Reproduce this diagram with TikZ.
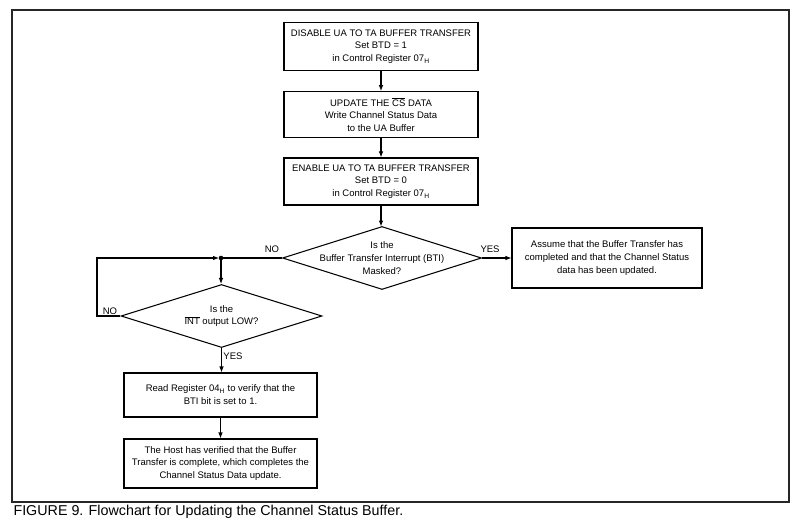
\documentclass[tikz,border=0pt]{standalone}
\usepackage{fontspec}
\setmainfont{Liberation Sans}
\usetikzlibrary{shapes.geometric,arrows.meta}
\begin{document}
\begin{tikzpicture}[x=1pt,y=-1pt,
  font=\fontsize{9.5}{12.8}\selectfont,
  line width=1.05pt,
  box/.style={draw, rectangle, align=center, inner sep=0pt},
  dia/.style={draw, diamond, inner sep=0pt, minimum width=200, minimum height=63},
  txt/.style={align=center, inner sep=0pt},
  lbl/.style={inner sep=0pt},
  arr/.style={-{Latex[length=6pt,width=4.6pt]}}
]
\useasboundingbox (0,0) rectangle (800,524);
\draw[line width=1.5pt, draw=black!85] (12,10) rectangle (789,502);
\node[anchor=base west, inner sep=0pt, font=\fontsize{14.3}{16}\selectfont] (cap) at (13,515) {FIGURE 9. Flowchart for Updating the Channel Status Buffer.};

\node[box, minimum width=194, minimum height=48] (b1) at (381,46.5) {DISABLE UA TO TA BUFFER TRANSFER\\Set BTD = 1\\in Control Register 07\textsubscript{H}};
\node[box, minimum width=194, minimum height=46] (b2) at (381,114.7) {UPDATE THE $\overline{\hbox{CS}}$ DATA\\Write Channel Status Data\\to the UA Buffer};
\node[box, minimum width=194, minimum height=47] (b3) at (381,181.5) {ENABLE UA TO TA BUFFER TRANSFER\\Set BTD = 0\\in Control Register 07\textsubscript{H}};

\node[dia, minimum width=199] (d1) at (382,258) {};
\node[txt] (d1t) at (382,258) {Is the\\Buffer Transfer Interrupt (BTI)\\Masked?};
\node[box, minimum width=190, minimum height=60] (rb) at (607,258) {Assume that the Buffer Transfer has\\completed and that the Channel Status\\data has been updated.};

\coordinate (j) at (221,258);
\fill (j) circle (2.3);
\node[dia, minimum width=201] (d2) at (221.5,316) {};
\node[txt] (d2t) at (221.5,316) {Is the\\$\overline{\hbox{INT}}$ output LOW?};
\coordinate (lc) at (97,316);
\coordinate (lt) at (97,258);

\node[box, minimum width=193, minimum height=44] (b4) at (220.5,395) {Read Register 04\textsubscript{H} to verify that the\\BTI bit is set to 1.};
\node[box, minimum width=193, minimum height=49] (b5) at (220.5,463.5) {The Host has verified that the Buffer\\Transfer is complete, which completes the\\Channel Status Data update.};

\draw[arr] (b1.south) -- (b2.north);
\draw[arr] (b2.south) -- (b3.north);
\draw[arr] (b3.south) -- (381,226.5);
\draw[arr] (d1.east) -- (rb.west);
\draw (d1.west) -- (j);
\draw[arr] (j) -- (j |- d2.north);
\draw[arr, shorten >=2pt] (d2.west) -- (lc) -- (lt) -- (j);
\draw[arr] (d2.south) -- (d2.south |- b4.north);
\draw[arr] (b4.south) -- (b5.north);

\node[lbl] (no1) at (272,249) {NO};
\node[lbl] (yes1) at (490,249) {YES};
\node[lbl] (no2) at (110,311) {NO};
\node[lbl] (yes2) at (233,356) {YES};
\end{tikzpicture}
\end{document}
